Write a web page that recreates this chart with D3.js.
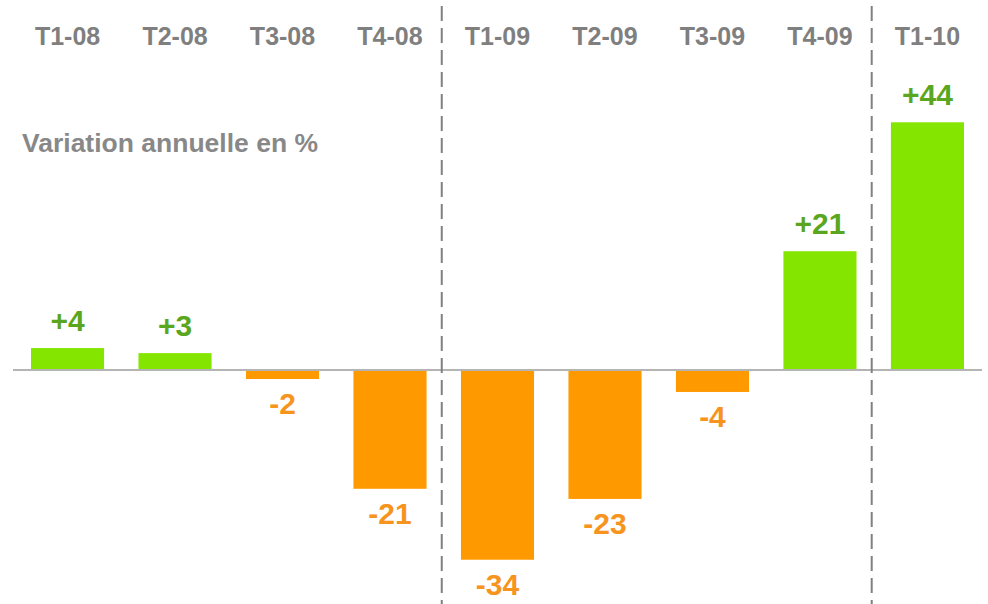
<!DOCTYPE html>
<html>
<head>
<meta charset="utf-8">
<script src="https://cdn.jsdelivr.net/npm/d3@7"></script>
<style>
  body { margin: 0; background: #fff; }
  svg { display: block; font-family: "Liberation Sans", Arial, sans-serif; font-weight: bold; }
</style>
</head>
<body>
<div id="chart"></div>
<script>
// quarters, annual change in %
const quarters = ["T1-08", "T2-08", "T3-08", "T4-08", "T1-09", "T2-09", "T3-09", "T4-09", "T1-10"];
const values = [3.9, 3.0, -1.6, -21.1, -33.7, -22.9, -3.9, 21.1, 44.0];
const valueLabels = ["+4", "+3", "-2", "-21", "-34", "-23", "-4", "+21", "+44"];
const dividersBefore = ["T1-09", "T1-10"];
const subtitle = "Variation annuelle en %";

function createChart(container) {
    const width = 988;
    const height = 604;

    const svg = d3.select(container)
        .append("svg")
        .attr("width", width)
        .attr("height", height);

    const xScale = d3.scaleBand()
        .domain(quarters)
        .range([31, 964])
        .paddingInner(0.32)
        .paddingOuter(0);

    const yScale = d3.scaleLinear()
        .domain([-40, 50])
        .range([595.2, 88.5]);

    const data = quarters.map((q, i) => ({ q, v: values[i], label: valueLabels[i] }));

    svg.selectAll(".bar")
        .data(data)
        .enter().append("rect")
        .attr("class", "bar")
        .attr("x", d => xScale(d.q))
        .attr("y", d => yScale(Math.max(0, d.v)))
        .attr("width", xScale.bandwidth())
        .attr("height", d => Math.abs(yScale(d.v) - yScale(0)))
        .attr("fill", d => d.v >= 0 ? "#84e600" : "#ff9900");

    // zero line
    svg.append("line")
        .attr("x1", 13)
        .attr("x2", 982)
        .attr("y1", yScale(0))
        .attr("y2", yScale(0))
        .attr("stroke", "#b4b4b4")
        .attr("stroke-width", 2);

    // year separators
    const gap = xScale.step() * xScale.paddingInner() / 2;
    svg.selectAll(".divider")
        .data(dividersBefore)
        .enter().append("line")
        .attr("class", "divider")
        .attr("x1", d => xScale(d) - gap - 2)
        .attr("x2", d => xScale(d) - gap - 2)
        .attr("y1", 6)
        .attr("y2", height)
        .attr("stroke", "#808080")
        .attr("stroke-width", 2)
        .attr("stroke-dasharray", "15,7");

    // quarter headers
    svg.selectAll(".quarter")
        .data(quarters)
        .enter().append("text")
        .attr("class", "quarter")
        .attr("x", d => xScale(d) + xScale.bandwidth() / 2)
        .attr("y", 45)
        .attr("text-anchor", "middle")
        .attr("font-size", 25)
        .attr("fill", "#7f7f7f")
        .text(d => d);

    // value labels
    svg.selectAll(".value")
        .data(data)
        .enter().append("text")
        .attr("class", "value")
        .attr("x", d => xScale(d.q) + xScale.bandwidth() / 2)
        .attr("y", d => d.v >= 0 ? yScale(d.v) - 17 : yScale(d.v) + 35)
        .attr("text-anchor", "middle")
        .attr("font-size", 30)
        .attr("fill", d => d.v >= 0 ? "#5aa61e" : "#f7941d")
        .text(d => d.label);

    svg.append("text")
        .attr("x", 22)
        .attr("y", 152)
        .attr("font-size", 26.5)
        .attr("fill", "#888888")
        .text(subtitle);
}

createChart("#chart");
</script>
</body>
</html>
